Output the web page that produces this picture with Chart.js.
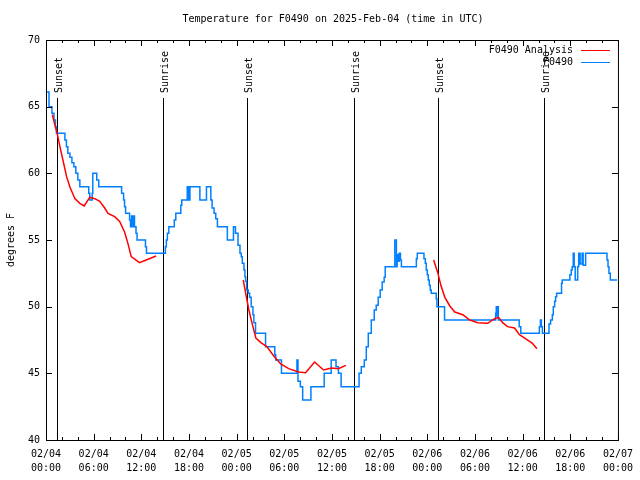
<!DOCTYPE html>
<html>
<head>
<meta charset="utf-8">
<script src="https://cdn.jsdelivr.net/npm/chart.js@4"></script>
<style>
html, body { margin: 0; padding: 0; background: #fff; }
</style>
</head>
<body>
<canvas id="c" width="640" height="480"></canvas>
<script>
// hours since 2025-02-04 00:00 UTC
const obsHours = [0.13, 0.38, 0.75, 1.0, 1.19, 1.31, 2.38, 2.57, 2.75, 3.01, 3.26, 3.51, 3.76, 4.01, 4.26,
  5.38, 5.51, 5.82, 5.89, 6.39, 6.64, 9.52, 9.77, 9.89, 10.02, 10.52, 10.64, 10.77, 10.89, 11.02, 11.14,
  11.33, 11.46, 12.52, 12.65, 15.03, 15.15, 15.28, 15.46, 16.15, 16.34, 16.97, 17.09, 17.78, 17.94, 18.12,
  19.37, 20.2, 20.75, 20.91, 21.16, 21.37, 21.58, 22.83, 23.6, 23.85, 24.17, 24.42, 24.58, 24.71, 24.92,
  25.04, 25.13, 25.26, 25.46, 25.63, 25.83, 26.05, 26.17, 26.38, 27.64, 28.8, 28.92, 29.64, 31.59, 31.72,
  32.02, 32.31, 33.35, 35.02, 35.9, 36.51, 36.81, 37.15, 39.41, 39.69, 40.07, 40.32, 40.57, 40.95, 41.32,
  41.57, 41.82, 42.07, 42.32, 42.57, 42.7, 43.91, 44.11, 44.2, 44.33, 44.45, 44.62, 44.74, 46.62, 46.74,
  47.58, 47.75, 47.87, 48.0, 48.12, 48.25, 48.37, 48.5, 49.12, 49.21, 50.17, 56.6, 56.68, 56.76, 56.85,
  56.94, 59.57, 59.77, 62.11, 62.24, 62.36, 62.49, 63.32, 63.52, 63.74, 63.86, 64.03, 64.15, 64.28, 64.9,
  64.99, 65.95, 66.12, 66.24, 66.37, 66.49, 66.62, 66.93, 67.06, 67.24, 67.49, 67.62, 67.93, 70.62, 70.75,
  70.87, 71.04, 71.88]
const obsTemps = [66.1, 65.0, 64.5, 64.0, 63.5, 63.0, 62.5, 62.0, 61.5, 61.2, 60.8, 60.5, 60.0, 59.5, 59.0,
  58.5, 58.0, 58.5, 60.0, 59.5, 59.0, 58.5, 58.0, 57.5, 57.0, 56.5, 56.0, 56.8, 56.0, 56.8, 56.0,
  55.5, 55.0, 54.5, 54.0, 54.5, 55.0, 55.5, 56.0, 56.5, 57.0, 57.6, 58.0, 59.0, 58.0, 59.0,
  58.0, 59.0, 58.0, 57.4, 57.0, 56.6, 56.0, 55.0, 56.0, 55.5, 54.6, 54.0, 53.75, 53.25, 52.75,
  52.25, 51.9, 51.25, 51.0, 50.7, 50.0, 49.4, 48.8, 48.0, 47.0, 46.4, 46.0, 45.0, 46.0, 44.4,
  44.0, 43.0, 44.0, 45.0, 46.0, 45.5, 45.0, 44.0, 45.0, 45.5, 46.0, 47.0, 48.0, 49.0, 49.75,
  50.1, 50.7, 51.25, 51.85, 52.2, 53.0, 55.0, 53.0, 53.9, 53.4, 54.0, 53.5, 53.0, 53.6, 54.0,
  53.6, 53.25, 52.75, 52.4, 52.0, 51.6, 51.25, 51.0, 50.6, 50.0, 49.0, 49.5, 50.0, 49.3, 50.0,
  49.0, 48.5, 48.0, 48.5, 49.0, 48.5, 48.0, 48.7, 49.0, 49.4, 50.0, 50.4, 50.75, 51.0, 51.75,
  52.0, 52.4, 52.75, 53.0, 54.0, 53.0, 52.0, 53.0, 54.0, 53.2, 54.0, 53.1, 54.0, 53.5, 53.0,
  52.5, 52.0, 52.0]

// analysis runs, null temps break the line between runs
const anaHours = [0.79, 1.13, 1.41, 1.75, 2.17, 2.59, 3.0, 3.63, 4.26, 4.8, 5.51, 6.14, 6.76, 7.39, 7.8,
  8.64, 9.27, 9.89, 10.31, 10.73, 11.77, 12.61, 13.86, 19,
  24.83, 25.17, 25.54, 25.92, 26.42, 27.05, 27.8, 28.67, 29.55, 30.55, 31.81, 32.68, 33.81, 34.94, 35.94,
  36.81, 37.75, 43,
  48.8, 49.34, 49.71, 50.21, 50.84, 51.47, 52.47, 53.34, 54.35, 55.6, 56.47, 56.97, 57.48, 58.1, 58.98,
  59.6, 60.36, 61.23, 61.8]
const anaTemps = [64.4, 63.6, 63.0, 62.0, 60.9, 59.75, 59.0, 58.1, 57.75, 57.55, 58.2, 58.1, 57.9, 57.4, 57.0,
  56.75, 56.4, 55.6, 54.75, 53.75, 53.3, 53.5, 53.8, null,
  52.0, 50.9, 49.75, 48.8, 47.65, 47.3, 47.0, 46.3, 45.7, 45.35, 45.1, 45.05, 45.85, 45.25, 45.4,
  45.35, 45.6, null,
  53.5, 52.5, 51.6, 50.7, 50.05, 49.6, 49.4, 49.0, 48.8, 48.75, 49.1, 49.2, 48.8, 48.5, 48.4,
  47.9, 47.6, 47.25, 46.85]

const sunHours = [1.38, 14.78, 25.3, 38.8, 49.34, 62.7]
const sunLabels = ['Sunset', 'Sunrise', 'Sunset', 'Sunrise', 'Sunset', 'Sunrise']

const tickDates = ['02/04', '02/04', '02/04', '02/04', '02/05', '02/05', '02/05', '02/05', '02/06', '02/06', '02/06', '02/06', '02/07']
const tickTimes = ['00:00', '06:00', '12:00', '18:00', '00:00', '06:00', '12:00', '18:00', '00:00', '06:00', '12:00', '18:00', '00:00']

const FONT = 'DejaVu Sans Mono'
const RED = '#ff0000'
const BLUE = 'rgb(0, 128, 255)'

const gnuplotBits = {
    id: 'gnuplotBits',
    beforeDatasetsDraw(chart) {
        const ctx = chart.ctx
        const xs = chart.scales.x
        const a = chart.chartArea
        ctx.save()
        ctx.strokeStyle = '#000'
        ctx.lineWidth = 1
        ctx.fillStyle = '#000'
        ctx.font = '10px ' + FONT
        sunHours.forEach((h, i) => {
            const px = Math.round(xs.getPixelForValue(h)) + 0.5
            ctx.beginPath()
            ctx.moveTo(px, 98)
            ctx.lineTo(px, a.bottom)
            ctx.stroke()
            ctx.save()
            ctx.translate(px + 4, 93)
            ctx.rotate(-Math.PI / 2)
            ctx.textAlign = 'left'
            ctx.textBaseline = 'alphabetic'
            ctx.fillText(sunLabels[i], 0, 0)
            ctx.restore()
        })
        ctx.restore()
    },
    afterDraw(chart) {
        const ctx = chart.ctx
        const xs = chart.scales.x
        const ys = chart.scales.y
        const a = chart.chartArea
        ctx.save()
        ctx.strokeStyle = '#000'
        ctx.lineWidth = 1
        ctx.strokeRect(a.left + 0.5, a.top + 0.5, a.right - a.left, a.bottom - a.top)
        ctx.beginPath()
        for (let h = 0; h <= 72; h += 2) {
            const px = Math.round(xs.getPixelForValue(h)) + 0.5
            const len = h % 6 === 0 ? 6 : 3
            ctx.moveTo(px, a.bottom)
            ctx.lineTo(px, a.bottom - len)
            ctx.moveTo(px, a.top)
            ctx.lineTo(px, a.top + len)
        }
        for (let v = 40; v <= 70; v += 5) {
            const py = Math.round(ys.getPixelForValue(v)) + 0.5
            ctx.moveTo(a.left, py)
            ctx.lineTo(a.left + 6, py)
            ctx.moveTo(a.right, py)
            ctx.lineTo(a.right - 6, py)
        }
        ctx.stroke()

        ctx.fillStyle = '#000'
        ctx.font = '10px ' + FONT
        ctx.textAlign = 'center'
        ctx.textBaseline = 'middle'
        ctx.fillText('Temperature for F0490 on 2025-Feb-04 (time in UTC)', (a.left + a.right) / 2 + 1, 19)

        ctx.save()
        ctx.translate(11, 240)
        ctx.rotate(-Math.PI / 2)
        ctx.fillText('degrees F', 0, 0)
        ctx.restore()

        // legend, top right inside the plot
        const names = chart.data.datasets.map(d => d.label)
        const cols = chart.data.datasets.map(d => d.borderColor)
        ctx.textAlign = 'right'
        names.forEach((n, i) => {
            const y = 50 + i * 12
            ctx.fillStyle = '#000'
            ctx.fillText(n, 573, y)
            ctx.strokeStyle = cols[i]
            ctx.beginPath()
            ctx.moveTo(581, y + 0.5)
            ctx.lineTo(610, y + 0.5)
            ctx.stroke()
        })
        ctx.restore()
    }
}

new Chart(document.getElementById('c').getContext('2d'), {
    type: 'line',
    data: {
        datasets: [{
            label: 'F0490 Analysis',
            data: anaHours.map((h, i) => ({ x: h, y: anaTemps[i] })),
            borderColor: RED,
            borderWidth: 1.5,
            pointRadius: 0,
            spanGaps: false,
            tension: 0
        }, {
            label: 'F0490',
            data: obsHours.map((h, i) => ({ x: h, y: obsTemps[i] })),
            borderColor: BLUE,
            borderWidth: 1.5,
            pointRadius: 0,
            stepped: 'before'
        }]
    },
    options: {
        responsive: false,
        animation: false,
        devicePixelRatio: 1,
        layout: { padding: { top: 40, right: 19, left: 0, bottom: 0 } },
        plugins: {
            legend: { display: false },
            title: { display: false },
            tooltip: { enabled: false }
        },
        scales: {
            x: {
                type: 'linear',
                min: 0,
                max: 72,
                grid: { display: false, drawTicks: false },
                border: { display: false },
                ticks: {
                    stepSize: 6,
                    autoSkip: false,
                    maxRotation: 0,
                    padding: 7,
                    color: '#000',
                    font: { family: FONT, size: 10, lineHeight: 1.4 },
                    callback: (v, i) => [tickDates[i], tickTimes[i]]
                },
                afterFit: s => { s.height = 40 }
            },
            y: {
                min: 40,
                max: 70,
                grid: { display: false, drawTicks: false },
                border: { display: false },
                ticks: {
                    stepSize: 5,
                    padding: 6,
                    color: '#000',
                    font: { family: FONT, size: 10 }
                },
                afterFit: s => { s.width = 46 }
            }
        }
    },
    plugins: [gnuplotBits]
})
</script>
</body>
</html>
